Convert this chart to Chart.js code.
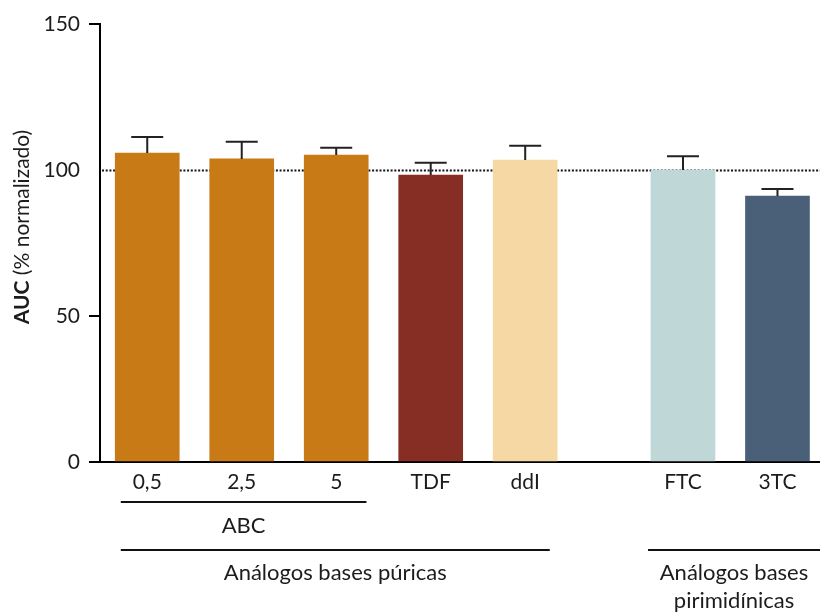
<!DOCTYPE html>
<html>
<head>
<meta charset="utf-8">
<script src="https://cdn.jsdelivr.net/npm/chart.js@4"></script>
<style>
  html, body { margin: 0; padding: 0; background: #fff; }
  #wrap { width: 820px; height: 612px; }
</style>
</head>
<body>
<div id="wrap"><canvas id="aucChart"></canvas></div>
<script>
const drugs = ['0,5', '2,5', '5', 'TDF', 'ddI', 'FTC', '3TC'];
const slots = [0, 1, 2, 3, 4, 5.67, 6.67];
const auc = [105.8, 103.8, 105.1, 98.3, 103.4, 100, 91.1];
const aucTop = [111.3, 109.7, 107.6, 102.5, 108.3, 104.7, 93.5];
const barColors = ['#c87a16', '#c87a16', '#c87a16', '#862e23', '#f5d8a3', '#bfd7d7', '#4a5f78'];
const yTicks = [0, 50, 100, 150];
const refLine = 100;

// group brackets under the x axis (in x-scale units)
const groups = [
  { label: ['ABC'], from: -0.28, to: 2.32, row: 0 },
  { label: ['Análogos bases púricas'], from: -0.28, to: 4.26, row: 1 },
  { label: ['Análogos bases', 'pirimidínicas'], from: 5.3, to: 7.12, row: 1 }
];

const FONT = 'Lato, "Open Sans", sans-serif';
const INK = '#1c1c1c';

const refLinePlugin = {
  id: 'refLine',
  beforeDatasetsDraw(chart) {
    const { ctx, chartArea, scales } = chart;
    const y = Math.round(scales.y.getPixelForValue(refLine)) + 0.5;
    ctx.save();
    ctx.strokeStyle = '#111';
    ctx.lineWidth = 2;
    ctx.setLineDash([2, 1.7]);
    ctx.beginPath();
    ctx.moveTo(chartArea.left + 2, y);
    ctx.lineTo(chartArea.right, y);
    ctx.stroke();
    ctx.restore();
  }
};

const errorBarPlugin = {
  id: 'errorBars',
  afterDatasetsDraw(chart) {
    const { ctx, scales } = chart;
    const meta = chart.getDatasetMeta(0);
    ctx.save();
    ctx.strokeStyle = '#222';
    ctx.lineWidth = 2;
    meta.data.forEach((bar, i) => {
      const yCap = scales.y.getPixelForValue(aucTop[i]);
      ctx.beginPath();
      ctx.moveTo(bar.x, bar.y);
      ctx.lineTo(bar.x, yCap);
      ctx.moveTo(bar.x - 16, yCap);
      ctx.lineTo(bar.x + 16, yCap);
      ctx.stroke();
    });
    ctx.restore();
  }
};

const annotationsPlugin = {
  id: 'annotations',
  afterDraw(chart) {
    const { ctx, scales } = chart;
    const x = scales.x;
    const rowLineY = [502, 550];
    const rowTextY = [526, 573];
    ctx.save();
    ctx.strokeStyle = '#111';
    ctx.lineWidth = 2;
    ctx.fillStyle = INK;
    ctx.font = '22px ' + FONT;
    ctx.textAlign = 'center';
    ctx.textBaseline = 'middle';
    groups.forEach(g => {
      const x0 = x.getPixelForValue(g.from);
      const x1 = x.getPixelForValue(g.to);
      const ly = rowLineY[g.row];
      ctx.beginPath();
      ctx.moveTo(x0, ly);
      ctx.lineTo(x1, ly);
      ctx.stroke();
      g.label.forEach((t, k) => {
        ctx.fillText(t, (x0 + x1) / 2, rowTextY[g.row] + k * 28);
      });
    });

    // y axis title: bold "AUC" + regular "(% normalizado)"
    const bold = 'bold 21px ' + FONT;
    const reg = '21px ' + FONT;
    const a = 'AUC';
    const b = ' (% normalizado)';
    ctx.font = bold;
    const wa = ctx.measureText(a).width;
    ctx.font = reg;
    const wb = ctx.measureText(b).width;
    ctx.translate(22, 227);
    ctx.rotate(-Math.PI / 2);
    ctx.textAlign = 'left';
    const start = -(wa + wb) / 2;
    ctx.font = bold;
    ctx.fillText(a, start, 0);
    ctx.font = reg;
    ctx.fillText(b, start + wa, 0);
    ctx.restore();
  }
};

new Chart(document.getElementById('aucChart'), {
  type: 'bar',
  data: {
    datasets: [{
      data: slots.map((s, i) => ({ x: s, y: auc[i] })),
      backgroundColor: barColors,
      borderWidth: 0,
      barThickness: 64
    }]
  },
  options: {
    responsive: true,
    maintainAspectRatio: false,
    animation: false,
    layout: { padding: { left: 0, top: 24, right: 0, bottom: 0 } },
    plugins: { legend: { display: false }, tooltip: { enabled: false } },
    scales: {
      x: {
        type: 'linear',
        offset: false,
        min: -0.5,
        max: 7.12,
        afterFit(s) { s.height = 150; },
        afterBuildTicks(s) { s.ticks = slots.map(v => ({ value: v })); },
        grid: { display: false, drawTicks: false, offset: false },
        border: { display: true, color: '#000', width: 2 },
        ticks: {
          autoSkip: false,
          maxRotation: 0,
          padding: 8,
          color: INK,
          font: { family: FONT, size: 21 },
          callback: (v) => drugs[slots.indexOf(v)]
        }
      },
      y: {
        min: 0,
        max: 150,
        afterFit(s) { s.width = 100; },
        afterBuildTicks(s) { s.ticks = yTicks.map(v => ({ value: v })); },
        grid: {
          drawOnChartArea: false,
          drawTicks: true,
          tickLength: 11,
          lineWidth: 2,
          color: (c) => (c.tick && c.tick.value === refLine ? 'rgba(0,0,0,0)' : '#000')
        },
        border: { display: true, color: '#000', width: 2 },
        ticks: {
          padding: 9,
          color: INK,
          font: { family: FONT, size: 21 }
        }
      }
    }
  },
  plugins: [refLinePlugin, errorBarPlugin, annotationsPlugin]
});
</script>
</body>
</html>
